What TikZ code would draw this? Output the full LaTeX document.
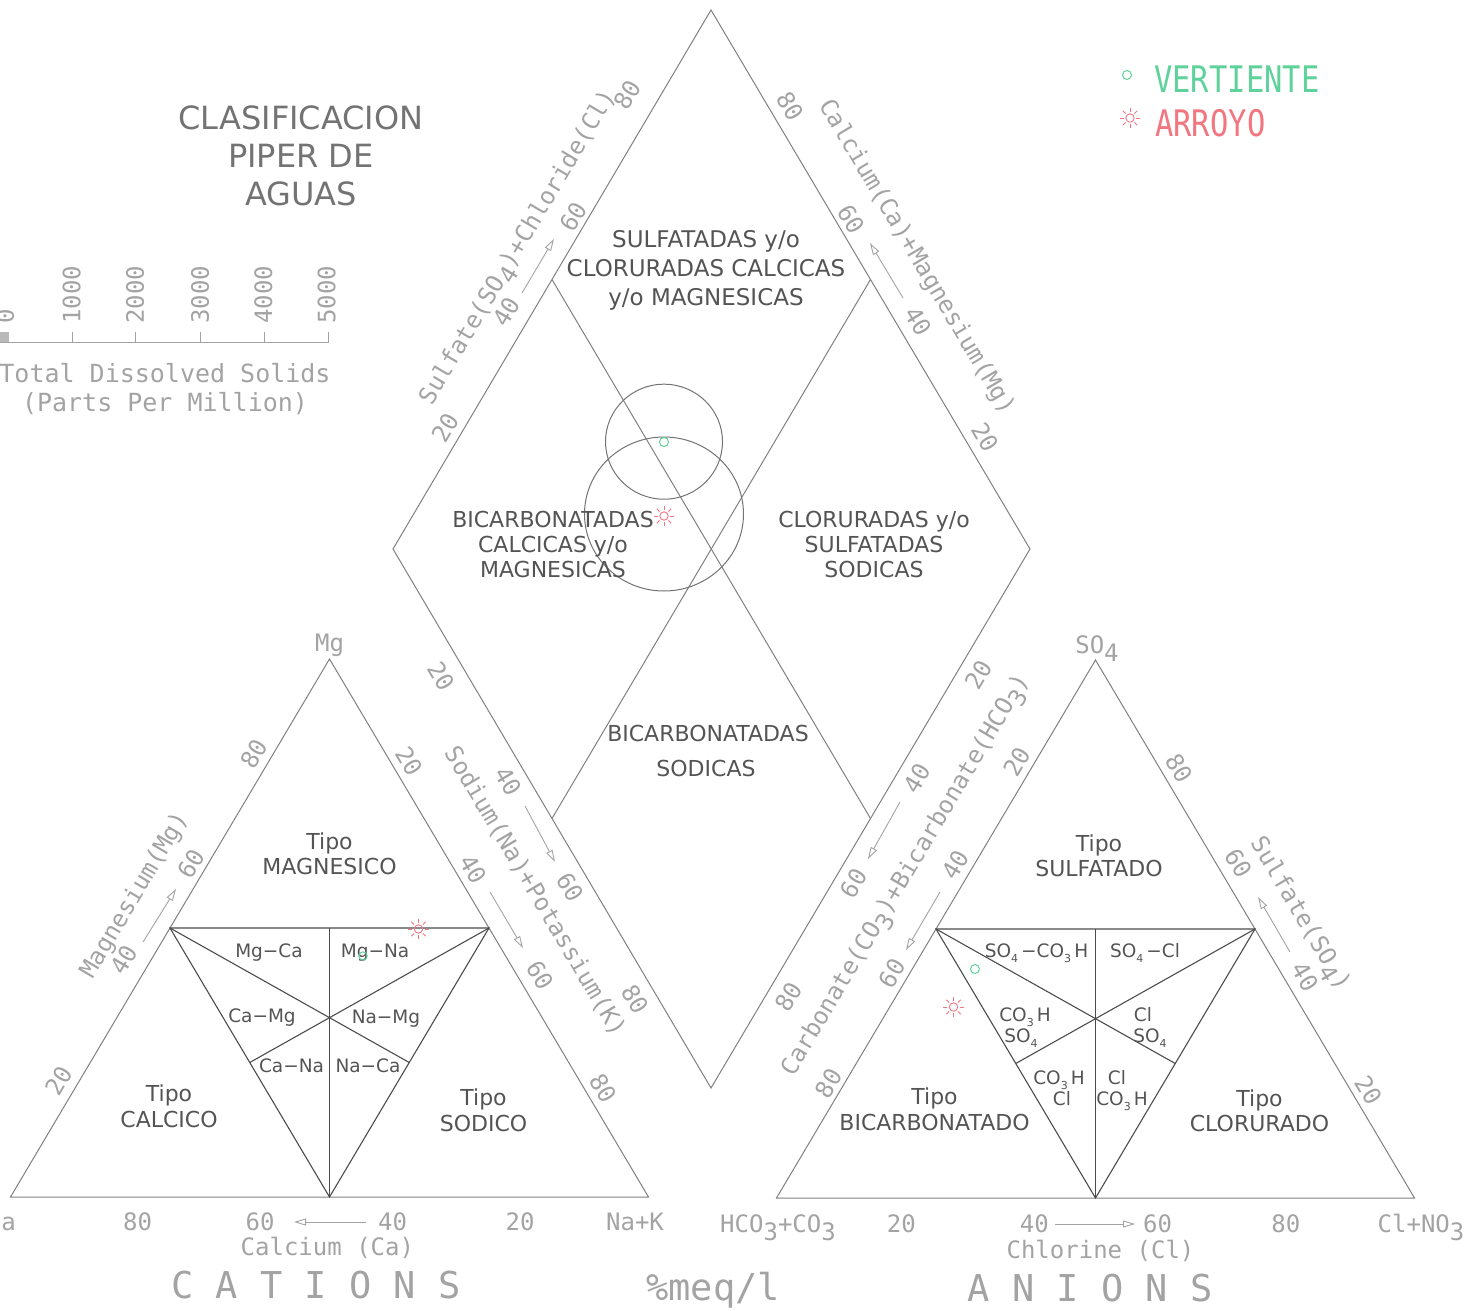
\documentclass[tikz,border=0pt]{standalone}
\usepackage{fontspec}
\setmainfont{DejaVu Sans}
\newfontfamily\monofam{DejaVu Sans Mono}
\usetikzlibrary{arrows.meta,calc}
\definecolor{axg}{gray}{0.64}
\definecolor{lineg}{gray}{0.50}
\definecolor{innerg}{gray}{0.30}
\definecolor{regt}{gray}{0.33}
\definecolor{titleg}{gray}{0.45}
\definecolor{circg}{gray}{0.45}
\definecolor{vgreen}{RGB}{95,210,155}
\definecolor{sunred}{RGB}{242,118,128}
\newcommand{\axfnt}{\monofam\fontsize{24}{24}\selectfont}
\newcommand{\lowr}[1]{\raisebox{-0.32em}{#1}}
\newcommand{\sbs}[1]{\raisebox{-0.25em}{\fontsize{11}{11}\selectfont #1}}
\begin{document}
\begin{tikzpicture}[x=1pt,y=-1pt,
  ax/.style={font=\axfnt, text=axg, inner sep=0pt, text height=17.5pt, text depth=0pt},
  axr/.style={ax, rotate=59.3},
  axl/.style={ax, rotate=-59.3},
  tdsl/.style={font=\monofam\fontsize{25}{25}\selectfont, text=axg, inner sep=0pt, text height=18.2pt, text depth=0pt},
  rg/.style={font=\fontsize{22}{22}\selectfont, text=regt, inner sep=0pt, text height=16pt, text depth=0pt},
  rgd/.style={font=\fontsize{23}{23}\selectfont, text=regt, inner sep=0pt, text height=16.8pt, text depth=0pt},
  rgs/.style={font=\fontsize{18.5}{18.5}\selectfont, text=regt, inner sep=0pt, text height=13.5pt, text depth=0pt},
  ttl/.style={font=\fontsize{32}{32}\selectfont, text=titleg, inner sep=0pt, text height=23.3pt, text depth=0pt},
  bigl/.style={font=\monofam\fontsize{37}{37}\selectfont, text=axg, inner sep=0pt, text height=27pt, text depth=0pt},
  legf/.style={font=\monofam\fontsize{30.5}{30.5}\selectfont, inner sep=0pt},
  outl/.style={draw=lineg, line width=1pt},
  inl/.style={draw=innerg, line width=1.1pt},
  arr/.style={draw=axg, line width=0.9pt, -{Triangle[open, length=12pt, width=7pt]}},
  gmark/.style={draw=vgreen, line width=1pt},
  sun/.pic={\draw[sunred,line width=0.9pt] (0,0) circle[radius=4.2];
            \foreach \a in {0,45,...,315}{\draw[sunred,line width=0.9pt] (\a:6.3)--(\a:10.2);}}
]
\useasboundingbox (0,0) rectangle (1484,1311);

% ---------- vertices
\coordinate (LA) at (10.5,1197);  \coordinate (LB) at (648.5,1197);  \coordinate (LC) at (329.5,659);
\coordinate (RA) at (776.5,1198); \coordinate (RB) at (1414.5,1198); \coordinate (RC) at (1095.5,660);
\coordinate (DT) at (711,10); \coordinate (DL) at (393,549); \coordinate (DR) at (1030,549); \coordinate (DB) at (711,1088);

% ---------- title
\node[ttl] (t1) at (301,118) {CLASIFICACION};
\node[ttl] (t2) at (301,156) {PIPER DE};
\node[ttl] (t3) at (301,193.5) {AGUAS};

% ---------- TDS scale
\fill[gray!55] (0,331.7) rectangle (9.3,342.7);
\draw[draw=axg, line width=1pt] (0,342.7) -- (328.3,342.7) -- (328.3,331.7);
\foreach \xx in {72.7,135.7,200,264}{\draw[draw=axg, line width=1pt] (\xx,342.7) -- (\xx,331.7);}
\node[ax, rotate=90, anchor=west] (s0) at (5,324) {0};
\node[ax, rotate=90, anchor=west] (s1) at (71.7,324) {1000};
\node[ax, rotate=90, anchor=west] (s2) at (135,324) {2000};
\node[ax, rotate=90, anchor=west] (s3) at (200,324) {3000};
\node[ax, rotate=90, anchor=west] (s4) at (263.3,324) {4000};
\node[ax, rotate=90, anchor=west] (s5) at (326.7,324) {5000};
\node[tdsl] (tds1) at (165,373.3) {Total Dissolved Solids};
\node[tdsl] (tds2) at (165,402.5) {(Parts Per Million)};

% ---------- legend
\draw[gmark] (1127,75) circle[radius=4.5];
\node[legf, text=vgreen, anchor=base west] (lv) at (1154,93) {\scalebox{1}[1.2]{VERTIENTE}};
\pic at (1130,118) {sun};
\node[legf, text=sunred, anchor=base west] (la) at (1155,136.5) {\scalebox{1}[1.2]{ARROYO}};

% ---------- outlines
\draw[outl] (LA) -- (LB) -- (LC) -- cycle;
\draw[outl] (RA) -- (RB) -- (RC) -- cycle;
\draw[outl] (DT) -- (DR) -- (DB) -- (DL) -- cycle;
\draw[outl] ($(DL)!0.5!(DT)$) -- ($(DR)!0.5!(DB)$);
\draw[outl] ($(DT)!0.5!(DR)$) -- ($(DL)!0.5!(DB)$);

% inner triangles
\coordinate (LAC) at ($(LA)!0.5!(LC)$); \coordinate (LBC) at ($(LB)!0.5!(LC)$); \coordinate (LAB) at ($(LA)!0.5!(LB)$);
\draw[inl] (LAC) -- (LBC) -- (LAB) -- cycle;
\draw[inl] (LAC) -- ($(LBC)!0.5!(LAB)$);
\draw[inl] (LBC) -- ($(LAC)!0.5!(LAB)$);
\draw[inl] (LAB) -- ($(LAC)!0.5!(LBC)$);
\coordinate (RAC) at ($(RA)!0.5!(RC)$); \coordinate (RBC) at ($(RB)!0.5!(RC)$); \coordinate (RAB) at ($(RA)!0.5!(RB)$);
\draw[inl] (RAC) -- (RBC) -- (RAB) -- cycle;
\draw[inl] (RAC) -- ($(RBC)!0.5!(RAB)$);
\draw[inl] (RBC) -- ($(RAC)!0.5!(RAB)$);
\draw[inl] (RAB) -- ($(RAC)!0.5!(RBC)$);

% TDS circles
\draw[draw=circg, line width=1pt] (664,441.7) ellipse [x radius=58.5, y radius=57.5];
\draw[draw=circg, line width=1pt] (664,514) ellipse [x radius=79.5, y radius=77];

% ---------- diamond region labels
\node[rgd] (d1) at (706,239) {SULFATADAS y/o};
\node[rgd] (d2) at (706,268) {CLORURADAS CALCICAS};
\node[rgd] (d3) at (706,297) {y/o MAGNESICAS};
\node[rg] (d4) at (553,519) {BICARBONATADAS};
\node[rg] (d5) at (553,544) {CALCICAS y/o};
\node[rg] (d6) at (553,569) {MAGNESICAS};
\node[rg] (d7) at (874,519) {CLORURADAS y/o};
\node[rg] (d8) at (874,544) {SULFATADAS};
\node[rg] (d9) at (874,569) {SODICAS};
\node[rg] (d10) at (708,733) {BICARBONATADAS};
\node[rg] (d11) at (706,768) {SODICAS};

% ---------- left triangle labels
\node[rg] (l1) at (329.5,841) {Tipo};
\node[rg] (l2) at (329.5,866.5) {MAGNESICO};
\node[rg] (l3) at (169,1093) {Tipo};
\node[rg] (l4) at (169,1119) {CALCICO};
\node[rg] (l5) at (483.5,1097) {Tipo};
\node[rg] (l6) at (483.5,1123) {SODICO};
\node[rgs] (m1) at (269,951) {Mg−Ca};
\node[rgs] (m2) at (375,951) {Mg−Na};
\node[rgs] (m3) at (262,1016) {Ca−Mg};
\node[rgs] (m4) at (386,1017) {Na−Mg};
\node[rgs] (m5) at (291.5,1066) {Ca−Na};
\node[rgs] (m6) at (368,1066) {Na−Ca};

% ---------- right triangle labels
\node[rg] (r1) at (1099,843) {Tipo};
\node[rg] (r2) at (1099,868.5) {SULFATADO};
\node[rg] (r3) at (934.5,1096.5) {Tipo};
\node[rg] (r4) at (934.5,1122) {BICARBONATADO};
\node[rg] (r5) at (1259.5,1098) {Tipo};
\node[rg] (r6) at (1259.5,1123) {CLORURADO};
\node[rgs] (n1) at (1036.5,951) {SO\sbs{4}\,−CO\sbs{3}\,H};
\node[rgs] (n2) at (1145,951) {SO\sbs{4}\,−Cl};
\node[rgs] (n3) at (1025,1015) {CO\sbs{3}\,H};
\node[rgs] (n4) at (1021,1036) {SO\sbs{4}};
\node[rgs] (n5) at (1143,1015) {Cl};
\node[rgs] (n6) at (1150,1036) {SO\sbs{4}};
\node[rgs] (n7) at (1059,1078) {CO\sbs{3}\,H};
\node[rgs] (n8) at (1062,1099) {Cl};
\node[rgs] (n9) at (1117,1078) {Cl};
\node[rgs] (n10) at (1122,1099) {CO\sbs{3}\,H};

% ---------- apex labels
\node[ax] (mg) at (329.5,643) {Mg};
\node[ax] (so4) at (1097,645) {SO\lowr{4}};

% ---------- left triangle, left side
\node[axr] at (58.5,1081) {20};
\node[axr] at (123.6,959.6) {40};
\node[axr] at (190.8,864) {60};
\node[axr] at (253.7,753.6) {80};
\node[axr] (magl) at (133,894.5) {Magnesium(Mg)};
\draw[arr] (143,942) -- (176,889);

% ---------- left triangle, right side
\node[axl] at (409,761) {20};
\node[axl] at (473,869) {40};
\node[axl] at (540,975) {60};
\node[axl] at (603,1088) {80};
\node[axl] (nal) at (536,891) {Sodium(Na)+Potassium(K)};
\draw[arr] (490,892) -- (523,948);

% ---------- diamond lower-left side
\node[axl] at (441,676) {20};
\node[axl] at (508,781) {40};
\node[axl] at (570,887) {60};
\node[axl] at (635,999) {80};
\draw[arr] (525,806) -- (555,862);

% ---------- diamond upper-left side
\node[axr] at (445,428) {20};
\node[axr] at (506,312) {40};
\node[axr] at (573,217) {60};
\node[axr] at (627,95) {80};
\node[axr] (scl) at (516.5,246.5) {Sulfate(SO\lowr{4})+Chloride(Cl)};
\draw[arr] (522,293) -- (554,239);

% ---------- diamond upper-right side
\node[axl] at (790,106) {80};
\node[axl] at (851,219) {60};
\node[axl] at (918,321) {40};
\node[axl] at (985,437) {20};
\node[axl] (caml) at (918,256) {Calcium(Ca)+Magnesium(Mg)};
\draw[arr] (903,298) -- (870,243);

% ---------- diamond lower-right side
\node[axr] at (978.3,675) {20};
\node[axr] at (916.7,778.3) {40};
\node[axr] at (853.3,883.3) {60};
\node[axr] at (788.3,996.7) {80};
\draw[arr] (900,802) -- (868,859);

% ---------- right triangle, left side
\node[axr] at (1016.7,761.7) {20};
\node[axr] at (955,865) {40};
\node[axr] at (891.7,973.3) {60};
\node[axr] at (828.3,1083.3) {80};
\node[axr] (carl) at (904,874) {Carbonate(CO\lowr{3})+Bicarbonate(HCO\lowr{3})};
\draw[arr] (940,892) -- (906,950);

% ---------- right triangle, right side
\node[axl] at (1179,768) {80};
\node[axl] at (1238.3,863.3) {60};
\node[axl] at (1305,976.7) {40};
\node[axl] at (1368.3,1090) {20};
\node[axl] (sul) at (1301.7,913) {Sulfate(SO\lowr{4})};
\draw[arr] (1290,952) -- (1258,897);

% ---------- bottom axes
\node[ax, anchor=east] (cab) at (16,1222) {Ca};
\node[ax] at (137.5,1222) {80};
\node[ax] at (260,1222) {60};
\node[ax] at (392.5,1222) {40};
\node[ax] at (520,1222) {20};
\node[ax] at (635,1222) {Na+K};
\draw[arr] (366,1222) -- (294,1222);
\node[ax] (calc) at (327.4,1246.5) {Calcium (Ca)};
\node[bigl] (cat) at (316,1285) {C A T I O N S};

\node[ax] (hco) at (778,1224) {HCO\lowr{3}+CO\lowr{3}};
\node[ax] at (901.4,1224) {20};
\node[ax] at (1034.3,1224) {40};
\node[ax] at (1157.6,1224) {60};
\node[ax] at (1285.8,1224) {80};
\node[ax] (clno) at (1421,1224) {Cl+NO\lowr{3}};
\draw[arr] (1055,1224) -- (1135,1224);
\node[ax] (chl) at (1100.5,1250) {Chlorine (Cl)};
\node[bigl] (ani) at (1090,1287.5) {A N I O N S};
\node[bigl] (meq) at (713,1287) {\%meq/l};

% ---------- sample markers
\pic at (418.5,929) {sun};
\draw[gmark] (363,956) circle[radius=4.2];
\draw[gmark] (664,442) circle[radius=4.5];
\pic at (664,516) {sun};
\draw[gmark] (975,969) circle[radius=4.5];
\pic at (953.5,1007) {sun};
\end{tikzpicture}
\end{document}
